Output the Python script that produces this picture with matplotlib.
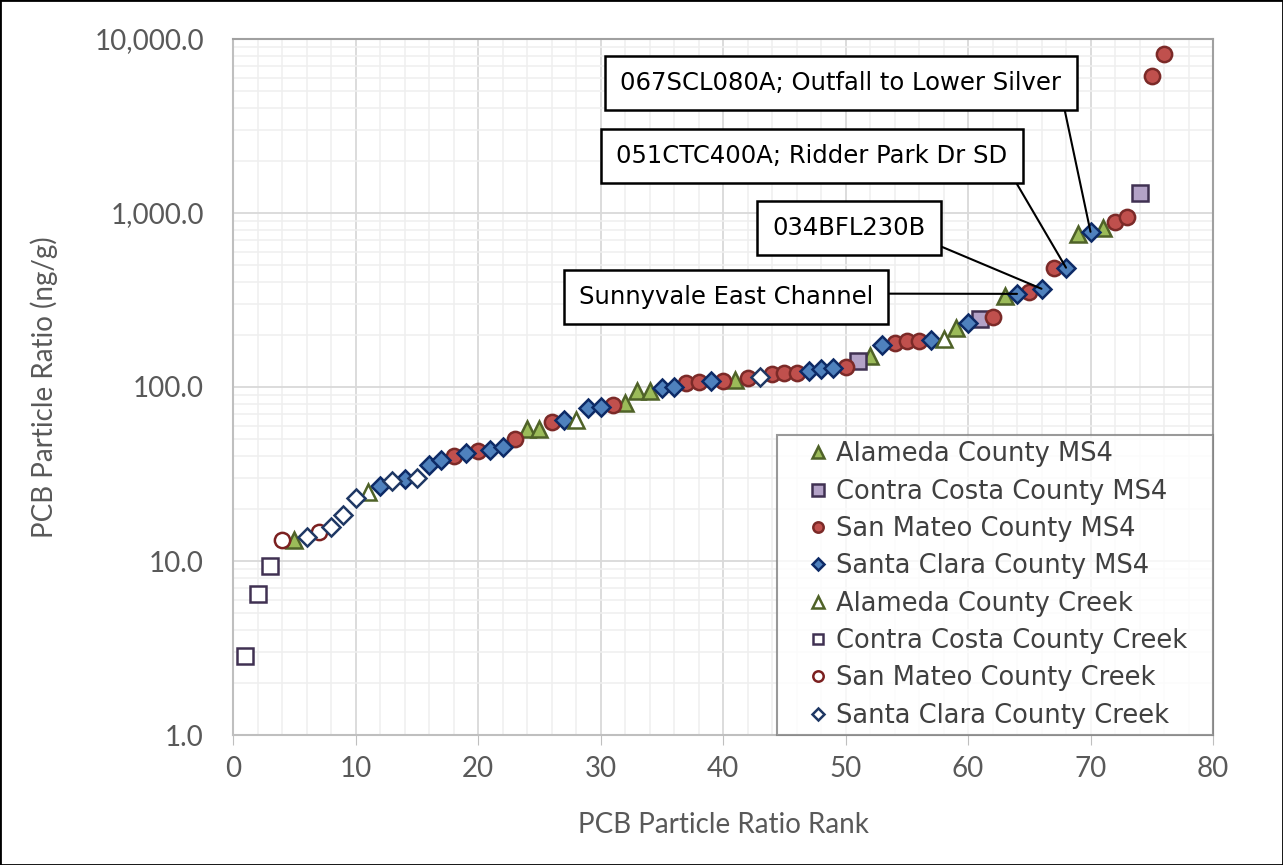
import numpy as np
import matplotlib
matplotlib.use('Agg')
import matplotlib.pyplot as plt
from matplotlib.ticker import FuncFormatter, MultipleLocator, LogLocator, NullFormatter
from matplotlib.lines import Line2D
import matplotlib.patches as patches

# PCB particle ratio (ng/g) in rank order 1..76
ratio = [2.85, 6.45, 9.4, 13.2, 13.2, 13.7, 14.7, 15.7, 18.4, 23.0,
         25.0, 27.0, 29.0, 29.5, 30.0, 35.5, 38.0, 40.0, 42.0, 43.0,
         43.5, 45.5, 50.0, 57.0, 57.5, 63.0, 64.5, 64.5, 75.5, 77.0,
         79.0, 81.0, 95.0, 95.0, 99.0, 100.0, 106.0, 107.0, 108.5, 108.5,
         110.0, 113.0, 114.0, 119.0, 121.0, 121.0, 124.0, 127.0, 129.0, 131.0,
         141.0, 150.0, 175.0, 180.0, 183.0, 183.0, 186.0, 189.0, 219.0, 234.0,
         245.0, 252.0, 335.0, 343.0, 350.0, 367.0, 485.0, 485.0, 760.0, 780.0,
         815.0, 890.0, 950.0, 1300.0, 6130.0, 8200.0]

# group of each ranked sample
group = ['CCc', 'CCc', 'CCc', 'SMc', 'AM', 'SCc', 'SMc', 'SCc', 'SCc', 'SCc',
         'ACc', 'SCM', 'SCc', 'SCM', 'SCc', 'SCM', 'SCM', 'SMM', 'SCM', 'SMM',
         'SCM', 'SCM', 'SMM', 'AM', 'AM', 'SMM', 'SCM', 'ACc', 'SCM', 'SCM',
         'SMM', 'AM', 'AM', 'AM', 'SCM', 'SCM', 'SMM', 'SMM', 'SCM', 'SMM',
         'AM', 'SMM', 'SCc', 'SMM', 'SMM', 'SMM', 'SCM', 'SCM', 'SCM', 'SMM',
         'CCM', 'AM', 'SCM', 'SMM', 'SMM', 'SMM', 'SCM', 'ACc', 'AM', 'SCM',
         'CCM', 'SMM', 'AM', 'SCM', 'SMM', 'SCM', 'SMM', 'SCM', 'AM', 'SCM',
         'AM', 'SMM', 'SMM', 'CCM', 'SMM', 'SMM']

group_order = ['AM', 'CCM', 'SMM', 'SCM', 'ACc', 'CCc', 'SMc', 'SCc']
group_names = ['Alameda County MS4', 'Contra Costa County MS4', 'San Mateo County MS4',
               'Santa Clara County MS4', 'Alameda County Creek', 'Contra Costa County Creek',
               'San Mateo County Creek', 'Santa Clara County Creek']

# labelled samples: rank and text
callout_rank = [70, 68, 66, 64]
callout_text = ['067SCL080A; Outfall to Lower Silver', '051CTC400A; Ridder Park Dr SD',
                '034BFL230B', 'Sunnyvale East Channel']

# marker styles per group
styles = {
    'AM':  dict(marker='^', mfc='#9bbb59', mec='#4f6228', ms=12),
    'CCM': dict(marker='s', mfc='#b3a2c7', mec='#403152', ms=12),
    'SMM': dict(marker='o', mfc='#c0504d', mec='#7b2a28', ms=11),
    'SCM': dict(marker='D', mfc='#4f81bd', mec='#0d2a66', ms=9.5),
    'ACc': dict(marker='^', mfc='white', mec='#4f6228', ms=12),
    'CCc': dict(marker='s', mfc='white', mec='#403152', ms=11),
    'SMc': dict(marker='o', mfc='white', mec='#7b2020', ms=11),
    'SCc': dict(marker='D', mfc='white', mec='#1f3864', ms=9.5),
}

plt.rcParams['font.family'] = ['Lato', 'DejaVu Sans']

fig = plt.figure(figsize=(12.83, 8.65), dpi=100)
ax = fig.add_axes([233/1283, 1-735/865, 980/1283, 696/865])

rank = np.arange(1, len(ratio) + 1)
ratio = np.array(ratio)
group = np.array(group)

handles = []
for g, name in zip(group_order, group_names):
    m = group == g
    st = styles[g]
    ax.plot(rank[m], ratio[m], linestyle='none', marker=st['marker'], markersize=st['ms'],
            markerfacecolor=st['mfc'], markeredgecolor=st['mec'], markeredgewidth=1.8, zorder=3)
    handles.append(Line2D([], [], linestyle='none', marker=st['marker'], markersize=st['ms']*0.68,
                          markerfacecolor=st['mfc'], markeredgecolor=st['mec'],
                          markeredgewidth=1.8, label=name))

ax.set_yscale('log')
ax.set_xlim(0, 80)
ax.set_ylim(1, 10000)

ax.xaxis.set_major_locator(MultipleLocator(10))
ax.xaxis.set_minor_locator(MultipleLocator(2))
ax.yaxis.set_major_locator(LogLocator(base=10))
ax.yaxis.set_minor_locator(LogLocator(base=10, subs=np.arange(2, 10)))
ax.yaxis.set_minor_formatter(NullFormatter())
ax.yaxis.set_major_formatter(FuncFormatter(lambda v, p: f'{v:,.1f}'))

ax.grid(which='major', color='#d9d9d9', linewidth=1.3, zorder=0)
ax.grid(which='minor', color='#efefef', linewidth=1.1, zorder=0)
ax.set_axisbelow(True)

ax.tick_params(axis='x', which='major', direction='out', length=7, color='#bfbfbf',
               labelsize=20, labelcolor='#595959', pad=8)
ax.tick_params(axis='y', which='major', length=0, labelsize=20, labelcolor='#595959', pad=21)
ax.tick_params(which='minor', length=0)

for s in ['left', 'bottom']:
    ax.spines[s].set_color('#bfbfbf')
    ax.spines[s].set_linewidth(1.5)
for s in ['top', 'right']:
    ax.spines[s].set_color('#a0a0a0')
    ax.spines[s].set_linewidth(1.5)

ax.set_xlabel('PCB Particle Ratio Rank', fontsize=20, color='#595959', labelpad=22)
ax.set_ylabel('PCB Particle Ratio (ng/g)', fontsize=20, color='#595959', labelpad=26)

# callout boxes (centre positions in figure pixels from the top)
box_pos = [(841, 83), (812, 156), (849, 228), (726, 297)]
box_relpos = [(1, 0), (1, 0), (1, 0), (1, 0.64)]
for r, txt, (bx, by), rp in zip(callout_rank, callout_text, box_pos, box_relpos):
    ax.annotate(txt, xy=(r, ratio[r - 1]), xycoords='data',
                xytext=(bx, 865 - by), textcoords='figure pixels',
                ha='center', va='center', fontsize=17.5, color='black',
                family=['DejaVu Sans'],
                bbox=dict(boxstyle='square,pad=0.62', fc='white', ec='black', lw=1.8),
                arrowprops=dict(arrowstyle='-', color='black', lw=1.5, relpos=rp,
                                shrinkA=0, shrinkB=0),
                zorder=5)

leg = ax.legend(handles=handles, loc='lower left', bbox_to_anchor=(0.555, 0, 0.445, 0.43),
                mode='expand', borderaxespad=0, fancybox=False, frameon=True,
                prop={'family': 'DejaVu Sans', 'size': 18.5},
                labelspacing=0.44, handletextpad=-0.65, handlelength=2.7,
                borderpad=0.25, labelcolor='#404040')
leg.get_frame().set_edgecolor('#808080')
leg.get_frame().set_linewidth(1.5)
leg.set_zorder(6)

fig.patches.append(patches.Rectangle((0, 0), 1, 1, transform=fig.transFigure, fill=False,
                                     edgecolor='black', linewidth=2))

fig.savefig('out.png', dpi=100)
